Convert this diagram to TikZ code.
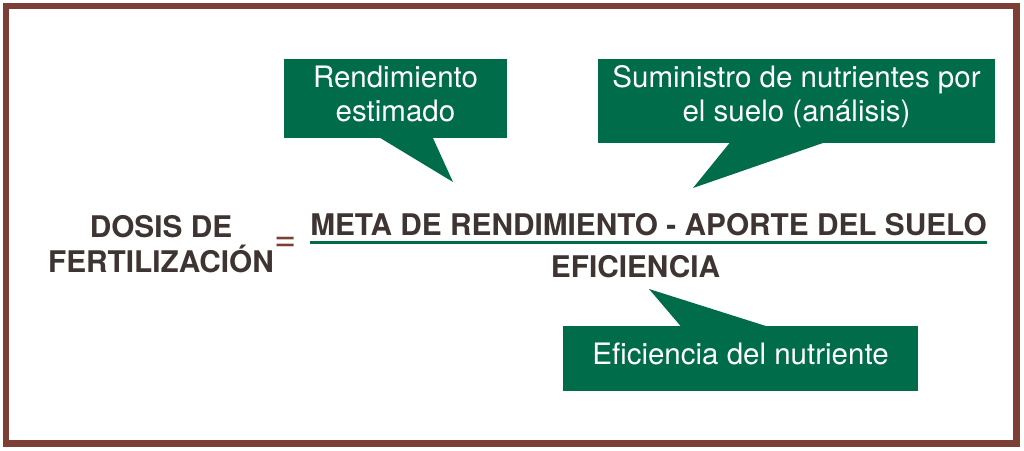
\documentclass[tikz,border=0pt]{standalone}
\usepackage{fontspec}
\setmainfont{TeX Gyre Heros}
\usepackage{tikz}
\usetikzlibrary{calc}
\definecolor{verde}{RGB}{0,108,74}
\definecolor{marrone}{RGB}{125,62,54}
\definecolor{testo}{RGB}{62,52,50}

\begin{document}
\begin{tikzpicture}[x=1pt,y=-1pt,
    fumetto/.style={fill=verde, text=white, inner sep=0pt, align=center,
      font=\fontsize{29.5}{34}\selectfont},
    formula/.style={text=testo, inner sep=0pt,
      font=\bfseries\fontsize{29.8}{35}\selectfont}]
    % Cornice marrone
    \useasboundingbox (0,0) rectangle (1024,450);
    \draw[marrone, line width=6.5pt] (6,6) rectangle (1016.5,443.5);

    % Membro sinistro e segno di uguale
    \node[formula, align=center] (dosis) at (161,243.75) {DOSIS DE\\FERTILIZACIÓN};
    \node[text=marrone, inner sep=0pt, font=\fontsize{38}{40}\selectfont] (uguale) at (286,244) {=};

    % Frazione
    \node[formula, anchor=base] (meta) at (648.5,235) {META DE RENDIMIENTO - APORTE DEL SUELO};
    \draw[verde, line width=3pt] ([yshift=-7pt]meta.base west) -- ([yshift=-7pt]meta.base east);
    \node[formula, anchor=base] (efi) at (635.5,277) {EFICIENCIA};

    % Fumetto del rendimento
    \node[fumetto, text depth=10.5pt, minimum width=223pt, minimum height=79pt] (rend) at (395.5,98.5) {Rendimiento\\estimado};
    \coordinate (puntaR) at (453,182);
    \fill[verde] ([xshift=96pt,yshift=0.5pt]rend.south west) -- (puntaR) -- ([xshift=149pt,yshift=0.5pt]rend.south west) -- cycle;

    % Fumetto del suolo
    \node[fumetto, text depth=15.5pt, minimum width=397pt, minimum height=84pt] (suolo) at (796.5,101) {Suministro de nutrientes por\\el suelo (análisis)};
    \coordinate (puntaS) at (693,188);
    \fill[verde] ([xshift=132pt,yshift=0.5pt]suolo.south west) -- (puntaS) -- ([xshift=226pt,yshift=0.5pt]suolo.south west) -- cycle;

    % Fumetto dell'efficienza
    \node[fumetto, text depth=10.5pt, minimum width=355pt, minimum height=65pt] (eff) at (740.5,358.5) {Eficiencia del nutriente};
    \coordinate (puntaE) at (649,289);
    \fill[verde] ([xshift=118pt,yshift=-0.5pt]eff.north west) -- (puntaE) -- ([xshift=204pt,yshift=-0.5pt]eff.north west) -- cycle;
\end{tikzpicture}
\end{document}
